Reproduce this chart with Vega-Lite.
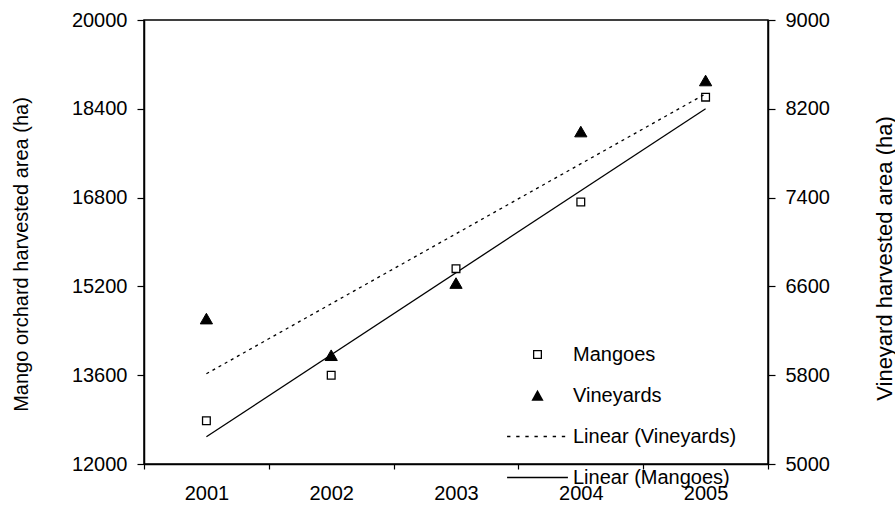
{
  "$schema": "https://vega.github.io/schema/vega-lite/v6.json",
  "width": 624,
  "height": 444,
  "autosize": {"type": "none"},
  "padding": {"left": 144, "top": 20, "right": 127, "bottom": 42},
  "background": "white",
  "config": {
    "font": "Liberation Sans",
    "view": {"stroke": "black", "strokeWidth": 1.5},
    "axis": {
      "domainColor": "black", "domainWidth": 1.5,
      "tickColor": "black", "tickWidth": 1.2,
      "labelColor": "black", "labelFontSize": 20, "labelFont": "Liberation Sans",
      "titleColor": "black", "titleFontSize": 20, "titleFontWeight": "normal", "titleFont": "Liberation Sans",
      "grid": false
    },
    "legend": {
      "orient": "none", "legendX": 363, "legendY": 304, "padding": 0,
      "labelFontSize": 20, "labelFont": "Liberation Sans", "labelColor": "black", "labelLimit": 300,
      "symbolSize": 3700, "symbolOffset": 0, "labelOffset": 5, "rowPadding": -11.5,
      "symbolFillColor": "black", "symbolBaseFillColor": "black",
      "symbolStrokeColor": "transparent", "symbolStrokeWidth": 0, "symbolOpacity": 1
    }
  },
  "data": {
    "values": [
      {"year": 2001, "area": 12780, "series": "Mangoes", "trend": "Linear (Mangoes)"},
      {"year": 2002, "area": 13600, "series": "Mangoes", "trend": "Linear (Mangoes)"},
      {"year": 2003, "area": 15520, "series": "Mangoes", "trend": "Linear (Mangoes)"},
      {"year": 2004, "area": 16720, "series": "Mangoes", "trend": "Linear (Mangoes)"},
      {"year": 2005, "area": 18610, "series": "Mangoes", "trend": "Linear (Mangoes)"},
      {"year": 2001, "area": 6310, "series": "Vineyards", "trend": "Linear (Vineyards)"},
      {"year": 2002, "area": 5980, "series": "Vineyards", "trend": "Linear (Vineyards)"},
      {"year": 2003, "area": 6630, "series": "Vineyards", "trend": "Linear (Vineyards)"},
      {"year": 2004, "area": 7995, "series": "Vineyards", "trend": "Linear (Vineyards)"},
      {"year": 2005, "area": 8455, "series": "Vineyards", "trend": "Linear (Vineyards)"}
    ]
  },
  "encoding": {
    "x": {
      "field": "year", "type": "ordinal",
      "scale": {"type": "band", "domain": [2001, 2002, 2003, 2004, 2005], "paddingInner": 0, "paddingOuter": 0},
      "axis": {"title": null, "labelAngle": 0, "tickBand": "extent", "tickSize": 5, "labelPadding": 14}
    }
  },
  "layer": [
    {
      "transform": [{"filter": "datum.series == 'Mangoes'"}],
      "encoding": {
        "y": {
          "field": "area", "type": "quantitative",
          "scale": {"domain": [12000, 20000], "nice": false, "zero": false},
          "axis": {
            "orient": "left", "title": "Mango orchard harvested area (ha)",
            "values": [12000, 13600, 15200, 16800, 18400, 20000], "format": "d",
            "tickSize": 7, "labelPadding": 10,
            "titleAngle": -90, "titleBaseline": "alphabetic", "titleX": -117, "titleY": 234
          }
        }
      },
      "layer": [
        {
          "transform": [{"regression": "area", "on": "year", "groupby": ["trend"]}],
          "mark": {"type": "line", "color": "black", "strokeWidth": 1.3},
          "encoding": {}
        },
        {
          "mark": {"type": "point", "shape": "square", "filled": true, "fill": "white", "strokeWidth": 0, "size": 45, "opacity": 1},
          "encoding": {}
        },
        {
          "mark": {"type": "point", "filled": true, "fill": "black", "strokeWidth": 0, "size": 3700, "opacity": 1},
          "encoding": {
            "shape": {
              "field": "series", "type": "nominal",
              "scale": {
                "domain": ["Mangoes", "Vineyards", "Linear (Vineyards)", "Linear (Mangoes)"],
                "range": [
                  "M-0.148,-0.148H0.148V0.148H-0.148Z M-0.106,-0.106V0.106H0.106V-0.106Z",
                  "M0,-0.185L0.2,0.17L-0.2,0.17Z",
                  "M-1,-0.022H-0.89V0.022H-1Z M-0.7,-0.022H-0.59V0.022H-0.7Z M-0.4,-0.022H-0.29V0.022H-0.4Z M-0.1,-0.022H0.01V0.022H-0.1Z M0.2,-0.022H0.31V0.022H0.2Z M0.5,-0.022H0.61V0.022H0.5Z M0.8,-0.022H0.91V0.022H0.8Z",
                  "M-1,-0.022H1V0.022H-1Z"
                ]
              },
              "legend": {"title": null}
            }
          }
        }
      ]
    },
    {
      "transform": [{"filter": "datum.series == 'Vineyards'"}],
      "encoding": {
        "y": {
          "field": "area", "type": "quantitative",
          "scale": {"domain": [5000, 9000], "nice": false, "zero": false},
          "axis": {
            "orient": "right", "title": "Vineyard harvested area (ha)",
            "values": [5000, 5800, 6600, 7400, 8200, 9000], "format": "d",
            "tickSize": 7, "labelPadding": 10, "titleFontSize": 22,
            "titleAngle": -90, "titleBaseline": "alphabetic", "titleX": 123, "titleY": 238
          }
        }
      },
      "layer": [
        {
          "transform": [{"regression": "area", "on": "year", "groupby": ["trend"]}],
          "mark": {"type": "line", "color": "black", "strokeWidth": 1.3, "strokeDash": [3, 4]},
          "encoding": {}
        },
        {
          "mark": {"type": "point", "shape": "triangle-up", "filled": true, "fill": "black", "stroke": "black", "strokeWidth": 1, "size": 150, "opacity": 1},
          "encoding": {}
        }
      ]
    }
  ],
  "resolve": {"scale": {"y": "independent"}}
}
